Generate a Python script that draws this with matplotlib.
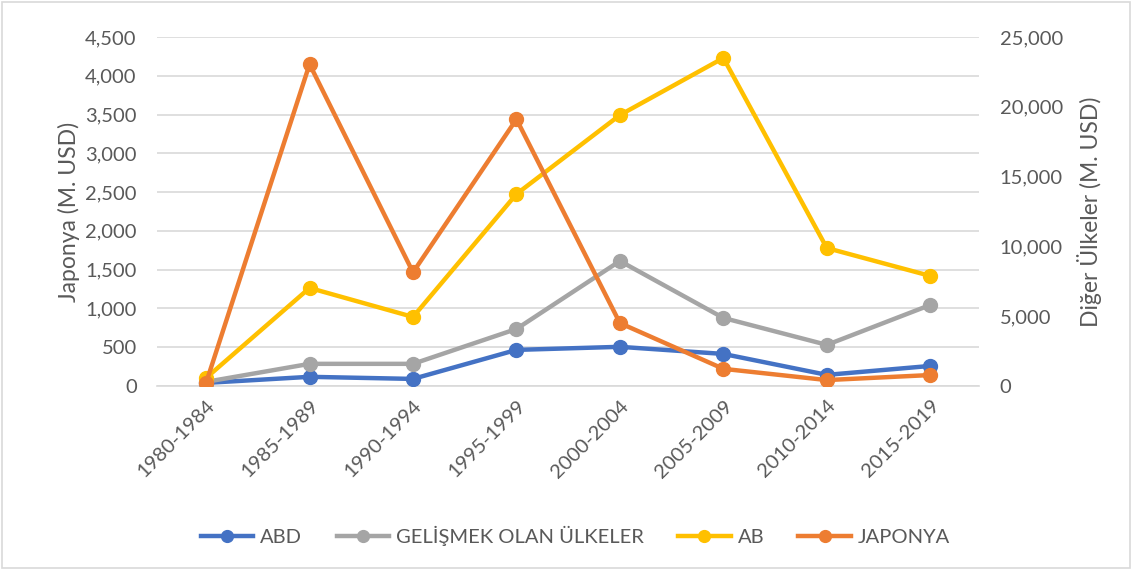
import matplotlib
matplotlib.use("Agg")
import matplotlib.pyplot as plt
from matplotlib.ticker import FuncFormatter, MultipleLocator
from matplotlib.patches import Rectangle

plt.rcParams['font.family'] = ['Lato', 'DejaVu Sans']

periods = ["1980-1984", "1985-1989", "1990-1994", "1995-1999",
           "2000-2004", "2005-2009", "2010-2014", "2015-2019"]
abd = [215, 650, 500, 2580, 2800, 2290, 790, 1430]
gelismekte = [290, 1580, 1580, 4080, 8950, 4870, 2940, 5800]
ab = [570, 7020, 4940, 13750, 19410, 23500, 9880, 7880]
japonya = [40, 4150, 1465, 3440, 810, 220, 75, 140]

c_abd = "#4472C4"
c_gel = "#A5A5A5"
c_ab = "#FFC000"
c_jap = "#ED7D31"
txt = "#595959"

fig = plt.figure(figsize=(11.33, 5.70), dpi=100)
ax = fig.add_axes([0.139, 0.323, 0.725, 0.612])
ax2 = ax.twinx()

x = list(range(len(periods)))
lw = 3.2
ms = 10
l1, = ax2.plot(x, abd, color=c_abd, lw=lw, marker='o', ms=ms, zorder=3)
l2, = ax2.plot(x, gelismekte, color=c_gel, lw=lw, marker='o', ms=ms, zorder=3)
l3, = ax2.plot(x, ab, color=c_ab, lw=lw, marker='o', ms=ms, zorder=3)
# Japonya belongs to the left axis; draw it on ax2 scaled so it stays on top
scale = 25000 / 4500
l4, = ax2.plot(x, [v * scale for v in japonya], color=c_jap, lw=lw, marker='o', ms=ms, zorder=5)

ax.set_ylim(0, 4500)
ax2.set_ylim(0, 25000)
ax.set_xlim(-0.47, 7.47)
ax.yaxis.set_major_locator(MultipleLocator(500))
ax2.yaxis.set_major_locator(MultipleLocator(5000))
fmt = FuncFormatter(lambda v, p: f"{int(v):,}")
ax.yaxis.set_major_formatter(fmt)
ax2.yaxis.set_major_formatter(fmt)

ax.grid(axis='y', color="#D9D9D9", lw=1.2)
ax.set_axisbelow(True)
for a in (ax, ax2):
    for s in a.spines.values():
        s.set_visible(False)
    a.tick_params(axis='y', length=0, labelsize=14.5, labelcolor=txt)
ax.tick_params(axis='y', pad=15)
ax2.tick_params(axis='y', pad=15)
ax.spines['bottom'].set_visible(True)
ax.spines['bottom'].set_color("#D9D9D9")
ax.spines['bottom'].set_linewidth(1.2)
ax.set_xticks(x)
ax.set_xticklabels(periods, rotation=45, ha='right', rotation_mode='anchor')
ax.tick_params(axis='x', length=0, labelsize=14.5, labelcolor=txt, pad=8)
ax2.tick_params(axis='x', length=0)

ax.set_ylabel("Japonya (M. USD)", fontsize=16.5, color=txt, labelpad=4)
ax2.set_ylabel("Diğer Ülkeler (M. USD)", fontsize=16.5, color=txt, labelpad=10)

handles = [l1, l2, l3, l4]
labels = ["ABD", "GELİŞMEK OLAN ÜLKELER", "AB", "JAPONYA"]
fig.legend(handles, labels, loc='center', bbox_to_anchor=(0.508, 0.06), ncol=4,
           frameon=False, fontsize=14.5, labelcolor=txt, handlelength=2.6,
           handletextpad=0.35, columnspacing=1.7, markerscale=0.85)

fig.patches.append(Rectangle((0.002, 0.003), 0.995, 0.993, transform=fig.transFigure,
                             fill=False, edgecolor="#D9D9D9", lw=1.2))
fig.savefig("out.png", dpi=100)
